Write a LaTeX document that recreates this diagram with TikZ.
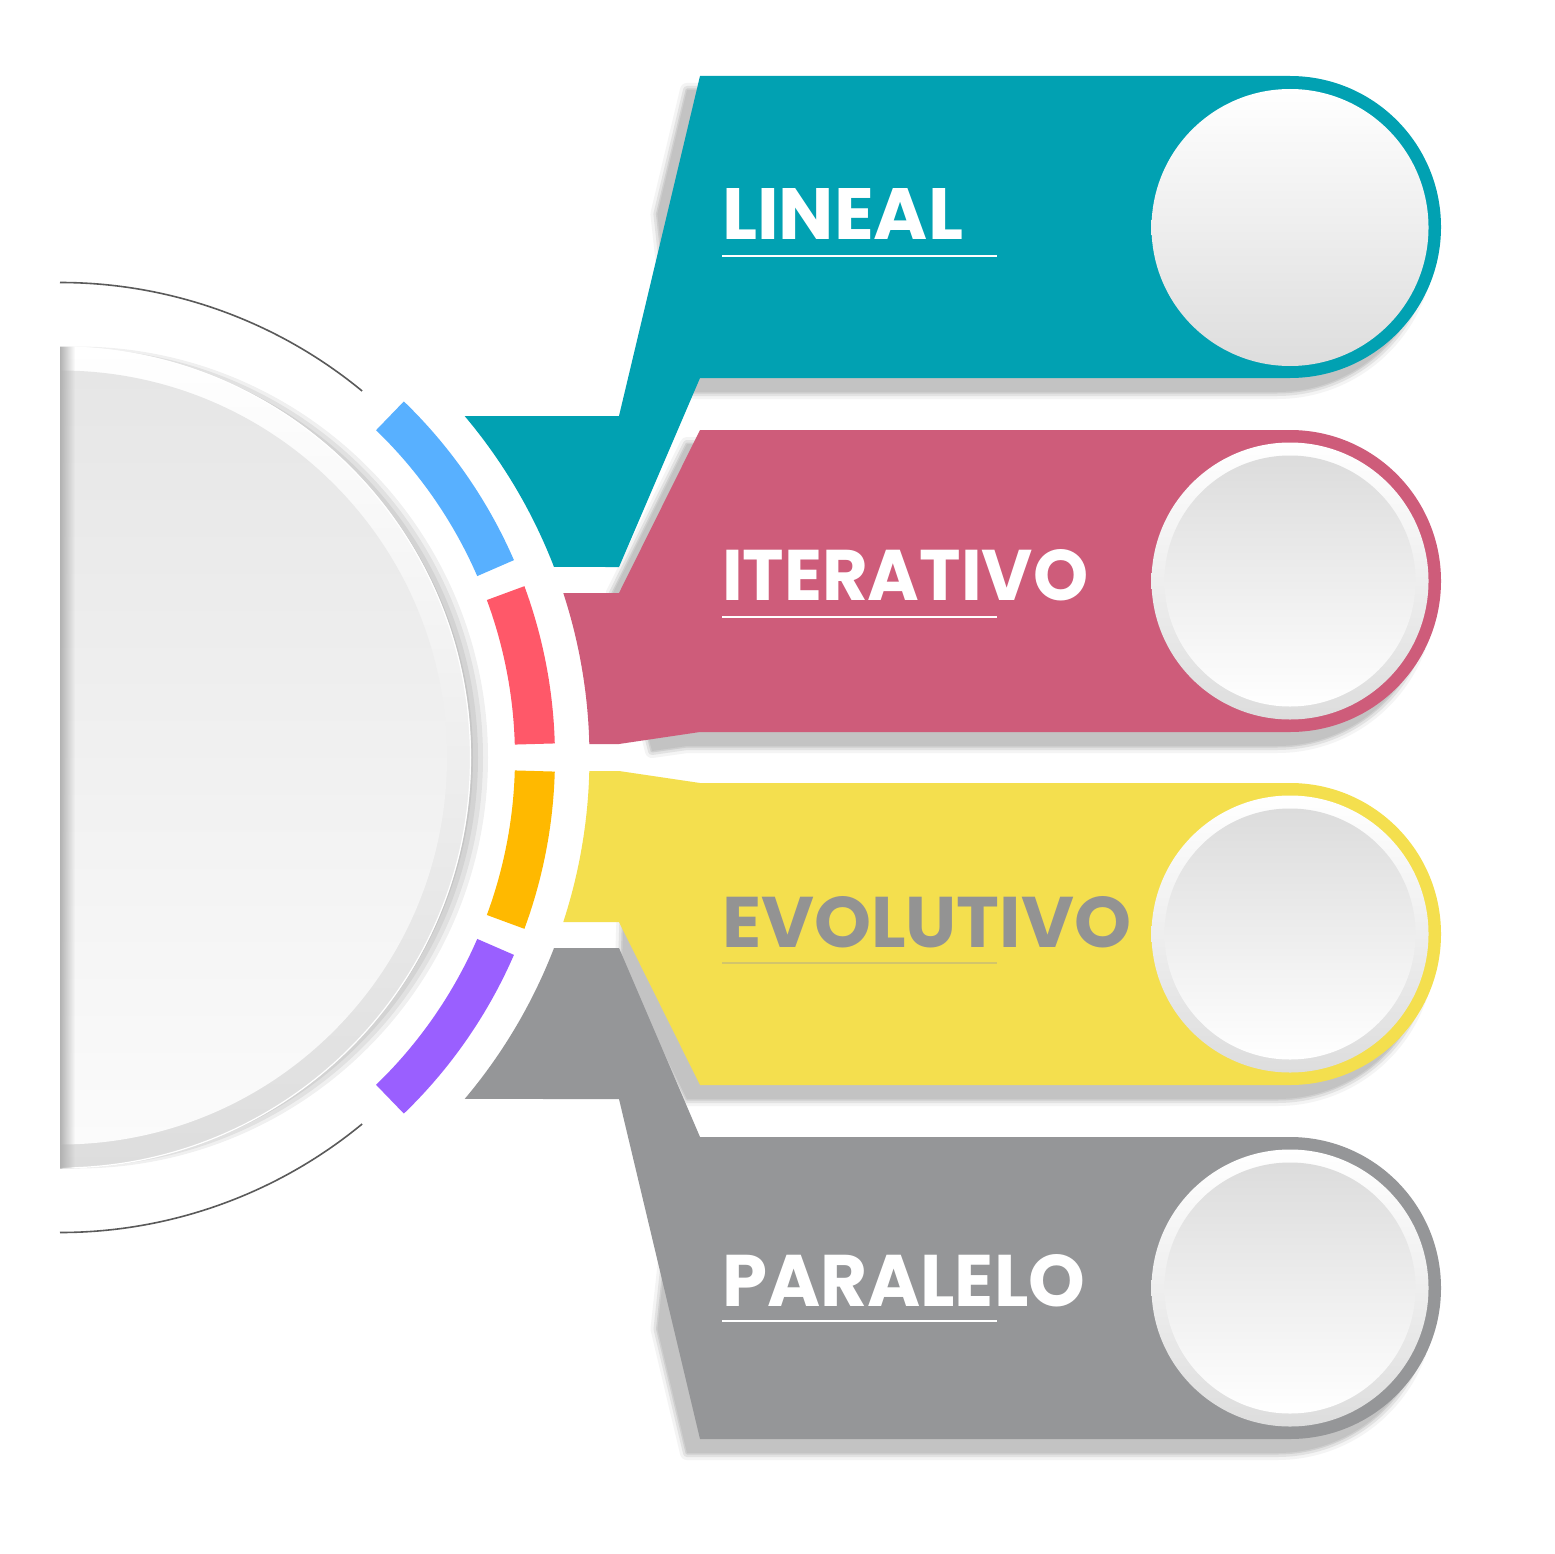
\documentclass[tikz,border=0pt]{standalone}
\usepackage{fontspec}
\usepackage{graphicx}
\setmainfont{Poppins}
\usetikzlibrary{calc,fadings}
\definecolor{cteal}{HTML}{01A1B2}
\definecolor{cpink}{HTML}{CE5C7A}
\definecolor{cyel}{HTML}{F4DF4E}
\definecolor{cgray}{HTML}{959698}
\definecolor{sblue}{HTML}{58B0FF}
\definecolor{sred}{HTML}{FF5869}
\definecolor{sorange}{HTML}{FFB900}
\definecolor{spurple}{HTML}{9A5FFF}
\definecolor{shc}{HTML}{C3C3C3}
\definecolor{arcc}{HTML}{5A5A5A}
\definecolor{txtgray}{HTML}{939393}
\definecolor{ulyel}{HTML}{D3C56A}
\definecolor{ringbot}{HTML}{DDDDDD}
\definecolor{innertop}{HTML}{E6E6E6}
\definecolor{innerbot}{HTML}{FBFBFB}
\definecolor{btop}{HTML}{DCDCDC}
\tikzfading[name=fadeR, left color=transparent!0, right color=transparent!100]

% band shapes
\newcommand\pathteal[1]{\path[#1] (700,76) -- (1290,76) arc[start angle=-90,end angle=90,radius=151] -- (700,378) -- (619,567) -- ($(C)+(-21.09:529.5)$) arc[start angle=-21.09,end angle=-40.16,radius=529.5] -- (619,416) -- cycle;}
\newcommand\pathpink[1]{\path[#1] (700,430) -- (1290,430) arc[start angle=-90,end angle=90,radius=151] -- (700,732) -- (619,744) -- ($(C)+(-1.461:529.5)$) arc[start angle=-1.461,end angle=-18.10,radius=529.5] -- (619,593) -- cycle;}
\newcommand\pathyel[1]{\path[#1] (619,771) -- (700,783) -- (1290,783) arc[start angle=-90,end angle=90,radius=151] -- (700,1085) -- (619,922) -- ($(C)+(18.10:529.5)$) arc[start angle=18.10,end angle=1.461,radius=529.5] -- cycle;}
\newcommand\pathgry[1]{\path[#1] (700,1137) -- (1290,1137) arc[start angle=-90,end angle=90,radius=151] -- (700,1439) -- (619,1099) -- ($(C)+(40.16:529.5)$) arc[start angle=40.16,end angle=21.09,radius=529.5] -- (619,948) -- cycle;}
% shadow shapes
\newcommand\shteal[1]{\path[#1] (670.4,200) -- (700,76) -- (1290,76) arc[start angle=-90,end angle=90,radius=151] -- (700,378) -- (690,378) -- cycle;}
\newcommand\shpink[1]{\path[#1] (625.5,580) -- (700,430) -- (1290,430) arc[start angle=-90,end angle=90,radius=151] -- (700,732) -- (665,737) -- cycle;}
\newcommand\shyel[1]{\path[#1] (634.9,954) -- (640,790) -- (700,783) -- (1290,783) arc[start angle=-90,end angle=90,radius=151] -- (700,1085) -- cycle;}
\newcommand\shgry[1]{\path[#1] (690,1137) -- (1290,1137) arc[start angle=-90,end angle=90,radius=151] -- (700,1439) -- (670.5,1315) -- cycle;}
\newcommand\softshadow[1]{%
  \begin{scope}[shift={(-13,14)}]
    #1{fill=shc}
    #1{draw=shc,line width=3,opacity=.6,line join=round}
    #1{draw=shc,line width=8,opacity=.35,line join=round}
    #1{draw=shc,line width=14,opacity=.18,line join=round}
  \end{scope}}

\tikzset{
  lbl/.style={anchor=base west,inner sep=0pt,outer sep=0pt,font=\bfseries},
  ul/.style={line width=1.5pt}
}

\begin{document}
\begin{tikzpicture}[x=1pt,y=-1pt]
\useasboundingbox (0,0) rectangle (1554,1554);
\fill[white] (0,0) rectangle (1554,1554);
\coordinate (C) at (60,757.5);

% ---------- big half disk ----------
\begin{scope}
  \clip (60,250) rectangle (700,1300);
  \foreach \rr/\cx in {411/77,409/74,406/72,403/70} \fill[black,opacity=0.06] (\cx,757.5) circle[radius=\rr];
  \shade[top color=white,bottom color=ringbot] (C) circle[radius=411];
  \draw[white,line width=1.2] (C) circle[radius=410.5];
  \shade[top color=innertop,bottom color=innerbot] (C) circle[radius=387];
  \begin{scope}
    \clip (C) circle[radius=411];
    \fill[black!30,path fading=fadeR] (60,300) rectangle (75,1220);
  \end{scope}
\end{scope}

% ---------- coloured ring segments and thin arcs ----------
\begin{scope}[shift={(60,757.5)}]
  \fill[sblue] (-23.5:455) arc[start angle=-23.5,end angle=-46,radius=455] -- (-46:495) arc[start angle=-46,end angle=-23.5,radius=495] -- cycle;
  \fill[sred] (-1.63:455) arc[start angle=-1.63,end angle=-20.25,radius=455] -- (-20.25:495) arc[start angle=-20.25,end angle=-1.63,radius=495] -- cycle;
  \fill[sorange] (1.63:455) arc[start angle=1.63,end angle=20.25,radius=455] -- (20.25:495) arc[start angle=20.25,end angle=1.63,radius=495] -- cycle;
  \fill[spurple] (23.5:455) arc[start angle=23.5,end angle=46,radius=455] -- (46:495) arc[start angle=46,end angle=23.5,radius=495] -- cycle;
  \draw[arcc,line width=1.6] (-90:475) arc[start angle=-90,end angle=-50.5,radius=475];
  \draw[arcc,line width=1.6] (50.5:475) arc[start angle=50.5,end angle=90,radius=475];
\end{scope}

% ---------- shadows ----------
\softshadow{\shteal}
\softshadow{\shpink}
\softshadow{\shyel}
\softshadow{\shgry}

% ---------- bands ----------
\pathteal{fill=cteal}
\pathpink{fill=cpink}
\pathyel{fill=cyel}
\pathgry{fill=cgray}

% ---------- circles ----------
\shade[top color=white,bottom color=ringbot] (1290,227.5) circle[radius=138.5];
\foreach \cy in {581,934,1288}{
  \shade[top color=white,bottom color=ringbot] (1290,\cy) circle[radius=138.5];
  \shade[top color=btop,bottom color=white] (1290,\cy) circle[radius=125.5];
}

% ---------- labels ----------
\node[lbl,text=white] (lineal) at (722,240) {\resizebox{241pt}{51pt}{LINEAL}};
\node[lbl,text=white] (iterativo) at (722,600) {\resizebox{366pt}{51pt}{ITERATIVO}};
\node[lbl,text=txtgray] (evolutivo) at (722,947) {\resizebox{409pt}{51pt}{EVOLUTIVO}};
\node[lbl,text=white] (paralelo) at (722,1306) {\resizebox{363pt}{52pt}{PARALELO}};

\draw[ul,white] (722,256) -- (997,256);
\draw[ul,white] (722,617) -- (997,617);
\draw[ul,ulyel] (722,963) -- (997,963);
\draw[ul,white] (722,1321) -- (997,1321);
\end{tikzpicture}
\end{document}
